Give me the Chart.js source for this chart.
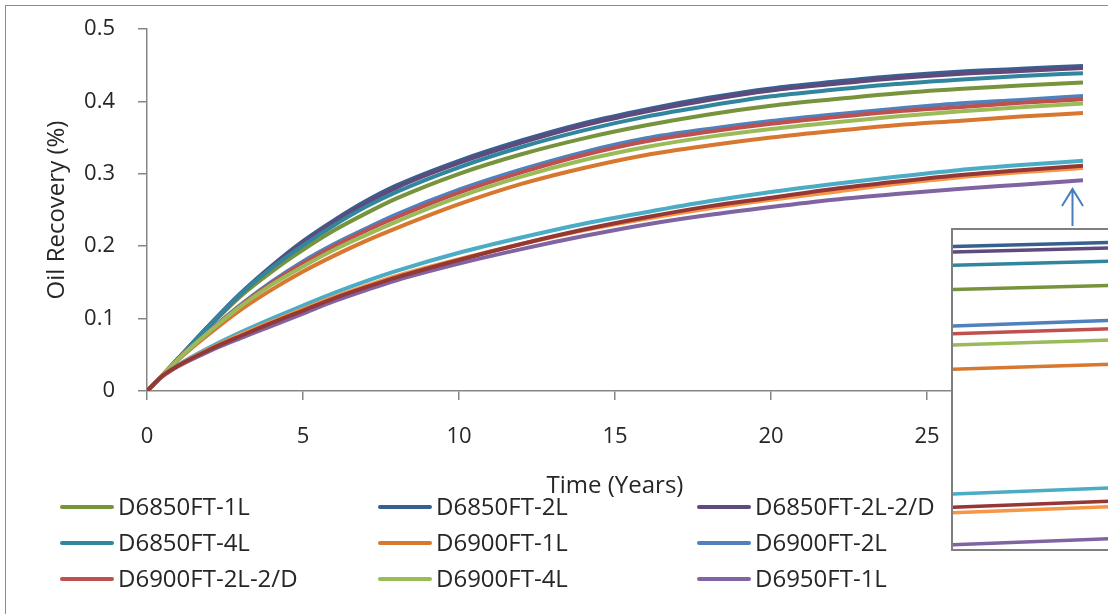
<!DOCTYPE html>
<html>
<head>
<meta charset="utf-8">
<script src="https://cdn.jsdelivr.net/npm/chart.js@4.4.1/dist/chart.umd.min.js"></script>
<style>
  html, body { margin: 0; padding: 0; background: #fff; overflow: hidden; }
  #wrap { position: relative; width: 1108px; height: 614px; overflow: hidden; }
  #frame { position: absolute; left: 5px; top: 5px; width: 1200px; height: 700px;
           border-left: 1.5px solid #8c8c8c; border-top: 1.5px solid #8c8c8c; }
  #main { position: absolute; left: 0; top: 0; }
  #zoomBox { position: absolute; left: 951px; top: 228px; width: 175px; height: 319px;
             border: 2px solid #7f7f7f; background: #fff; }
  #inset { display: block; }
</style>
</head>
<body>
<div id="wrap">
  <div id="frame"></div>
  <canvas id="main" width="1108" height="614"></canvas>
  <div id="zoomBox"><canvas id="inset" width="175" height="319"></canvas></div>
</div>
<script>
// Simulation time axis (years)
const years = [0, 0.5, 1, 2, 3, 4, 5, 6, 7, 8, 10, 12, 14, 16, 18, 20, 22, 24, 26, 28, 30];

// Oil recovery per case, one value per entry of `years`
const d6850_1L   = [0, 0.022, 0.045, 0.089, 0.131, 0.165, 0.195, 0.222, 0.245, 0.266, 0.300, 0.327, 0.349, 0.367, 0.382, 0.394, 0.403, 0.411, 0.417, 0.422, 0.426];
const d6850_2L   = [0, 0.022, 0.045, 0.091, 0.135, 0.173, 0.207, 0.236, 0.262, 0.284, 0.318, 0.346, 0.370, 0.389, 0.405, 0.418, 0.427, 0.435, 0.441, 0.445, 0.449];
const d6850_2L2D = [0, 0.022, 0.045, 0.091, 0.134, 0.172, 0.205, 0.234, 0.259, 0.281, 0.315, 0.343, 0.367, 0.386, 0.402, 0.415, 0.424, 0.432, 0.438, 0.442, 0.446];
const d6850_4L   = [0, 0.022, 0.045, 0.091, 0.134, 0.170, 0.201, 0.229, 0.254, 0.275, 0.309, 0.337, 0.360, 0.379, 0.394, 0.407, 0.416, 0.424, 0.430, 0.435, 0.439];
const d6900_1L   = [0, 0.022, 0.043, 0.079, 0.112, 0.140, 0.165, 0.187, 0.207, 0.225, 0.258, 0.286, 0.308, 0.326, 0.339, 0.350, 0.359, 0.367, 0.373, 0.379, 0.384];
const d6900_2L   = [0, 0.022, 0.044, 0.083, 0.119, 0.151, 0.179, 0.203, 0.224, 0.244, 0.278, 0.306, 0.330, 0.349, 0.362, 0.373, 0.382, 0.390, 0.397, 0.402, 0.4075];
const d6900_2L2D = [0, 0.022, 0.044, 0.082, 0.118, 0.149, 0.176, 0.200, 0.221, 0.240, 0.274, 0.302, 0.326, 0.345, 0.358, 0.369, 0.378, 0.386, 0.392, 0.398, 0.403];
const d6900_4L   = [0, 0.022, 0.044, 0.082, 0.117, 0.147, 0.172, 0.195, 0.215, 0.234, 0.268, 0.296, 0.319, 0.337, 0.351, 0.362, 0.371, 0.379, 0.386, 0.392, 0.397];
const d6950_1L   = [0, 0.020, 0.034, 0.055, 0.073, 0.090, 0.107, 0.124, 0.139, 0.153, 0.176, 0.196, 0.214, 0.230, 0.243, 0.254, 0.264, 0.272, 0.279, 0.285, 0.291];
const d6950_2L   = [0, 0.021, 0.036, 0.060, 0.081, 0.100, 0.118, 0.1355, 0.1515, 0.166, 0.191, 0.212, 0.231, 0.247, 0.262, 0.275, 0.286, 0.296, 0.305, 0.312, 0.318];
const d6950_4L   = [0, 0.021, 0.035, 0.058, 0.078, 0.096, 0.113, 0.130, 0.145, 0.159, 0.182, 0.203, 0.222, 0.238, 0.252, 0.264, 0.275, 0.286, 0.295, 0.302, 0.308];
const d6950_2L2D = [0, 0.021, 0.035, 0.057, 0.076, 0.094, 0.111, 0.128, 0.143, 0.157, 0.181, 0.203, 0.223, 0.240, 0.255, 0.267, 0.279, 0.289, 0.298, 0.305, 0.311];

const seriesNames  = ['D6850FT-1L', 'D6850FT-2L', 'D6850FT-2L-2/D', 'D6850FT-4L', 'D6900FT-1L', 'D6900FT-2L',
                      'D6900FT-2L-2/D', 'D6900FT-4L', 'D6950FT-1L', 'D6950FT-2L', 'D6950FT-4L', 'D6950FT-2L-2/D'];
const seriesValues = [d6850_1L, d6850_2L, d6850_2L2D, d6850_4L, d6900_1L, d6900_2L,
                      d6900_2L2D, d6900_4L, d6950_1L, d6950_2L, d6950_4L, d6950_2L2D];
const seriesColors = ['#77933C', '#376092', '#604A7B', '#31859C', '#D77730', '#4F81BD',
                      '#C0504D', '#9BBB59', '#8064A2', '#4BACC6', '#F79646', '#953735'];
const legendEntries = 9;              // entries that fit in the legend box

const yTickLabels = ['0', '0.1', '0.2', '0.3', '0.4', '0.5'];
const xTickLabels = ['0', '5', '10', '15', '20', '25', '30'];

const xTitle = 'Time (Years)';
const yTitle = 'Oil Recovery (%)';

// Detail window: the late-time end of every curve
const zoomRange = { xMin: 28.8, xMax: 30, yMin: 0.2851, yMax: 0.4554 };
// Pointer from the curve ends down to the detail window
const pointer = { t: 29.65, tip: 0.279, tail: 0.228 };

const FONT = "'Open Sans', 'Noto Sans', sans-serif";
const TEXT = '#262626';
const AXIS = '#868686';

function makeSets(width) {
  return seriesValues.map((vals, i) => ({
    label: seriesNames[i],
    data: years.map((t, k) => ({ x: t, y: vals[k] })),
    borderColor: seriesColors[i],
    backgroundColor: seriesColors[i],
    borderWidth: width,
    pointRadius: 0,
    fill: false,
    cubicInterpolationMode: 'monotone',
    order: seriesValues.length - i      // later series are drawn on top
  }));
}

const legendPlugin = {
  id: 'gridLegend',
  afterDraw(chart) {
    const ctx = chart.ctx;
    const colX = [61, 379, 698];
    const rowY = [507, 543, 579];
    ctx.save();
    ctx.font = `24px ${FONT}`;
    ctx.textBaseline = 'middle';
    ctx.textAlign = 'left';
    ctx.lineCap = 'round';
    for (let i = 0; i < legendEntries; i++) {
      const cx = colX[i % 3], cy = rowY[Math.floor(i / 3)];
      ctx.strokeStyle = seriesColors[i];
      ctx.lineWidth = 4;
      ctx.beginPath();
      ctx.moveTo(cx + 1, cy);
      ctx.lineTo(cx + 51, cy);
      ctx.stroke();
      ctx.fillStyle = TEXT;
      ctx.fillText(seriesNames[i], cx + 57, cy + 1);
    }
    ctx.restore();
  }
};

const pointerPlugin = {
  id: 'pointer',
  afterDraw(chart) {
    const { ctx, scales: { x, y } } = chart;
    const px = Math.round(x.getPixelForValue(pointer.t)) + 0.5;
    const top = y.getPixelForValue(pointer.tip);
    const bot = y.getPixelForValue(pointer.tail);
    ctx.save();
    ctx.strokeStyle = '#4A7EBB';
    ctx.lineWidth = 2;
    ctx.beginPath();
    ctx.moveTo(px, bot);
    ctx.lineTo(px, top + 1);
    ctx.moveTo(px - 10.5, top + 17);
    ctx.lineTo(px, top);
    ctx.lineTo(px + 10.5, top + 17);
    ctx.stroke();
    ctx.restore();
  }
};

new Chart(document.getElementById('main'), {
  type: 'line',
  data: { datasets: makeSets(4) },
  options: {
    responsive: false,
    animation: false,
    events: [],
    layout: { padding: { left: 30, top: 29, right: 25, bottom: 113.6 } },
    plugins: { legend: { display: false }, tooltip: { enabled: false } },
    scales: {
      x: {
        type: 'linear', min: 0, max: 30,
        ticks: {
          stepSize: 5, padding: 24, color: TEXT, font: { family: FONT, size: 22 },
          callback: (v) => xTickLabels[Math.round(v / 5)]
        },
        grid: { drawOnChartArea: false, tickLength: 9, color: AXIS, lineWidth: 1.5 },
        border: { color: AXIS, width: 1.5 },
        title: { display: true, text: xTitle, color: TEXT, font: { family: FONT, size: 24 }, padding: { top: 0, bottom: 0 } },
        afterFit(s) { s.height = 109.4; s.paddingLeft = 0; s.paddingRight = 0; }
      },
      y: {
        type: 'linear', min: 0, max: 0.5,
        ticks: {
          stepSize: 0.1, padding: 23, color: TEXT, font: { family: FONT, size: 22 },
          callback: (v) => yTickLabels[Math.round(v * 10)]
        },
        grid: { drawOnChartArea: false, tickLength: 9, color: AXIS, lineWidth: 1.5 },
        border: { color: AXIS, width: 1.5 },
        title: { display: true, text: yTitle, color: TEXT, font: { family: FONT, size: 24 }, padding: { top: 12.6, bottom: 0 } },
        afterFit(s) { s.width = 117; s.paddingTop = 0; s.paddingBottom = 0; }
      }
    }
  },
  plugins: [legendPlugin, pointerPlugin]
});

new Chart(document.getElementById('inset'), {
  type: 'line',
  data: { datasets: makeSets(3.5) },
  options: {
    responsive: false,
    animation: false,
    events: [],
    layout: { padding: 0 },
    plugins: { legend: { display: false }, tooltip: { enabled: false } },
    scales: {
      x: { type: 'linear', display: false, min: zoomRange.xMin, max: zoomRange.xMax },
      y: { type: 'linear', display: false, min: zoomRange.yMin, max: zoomRange.yMax }
    }
  }
});
</script>
</body>
</html>
